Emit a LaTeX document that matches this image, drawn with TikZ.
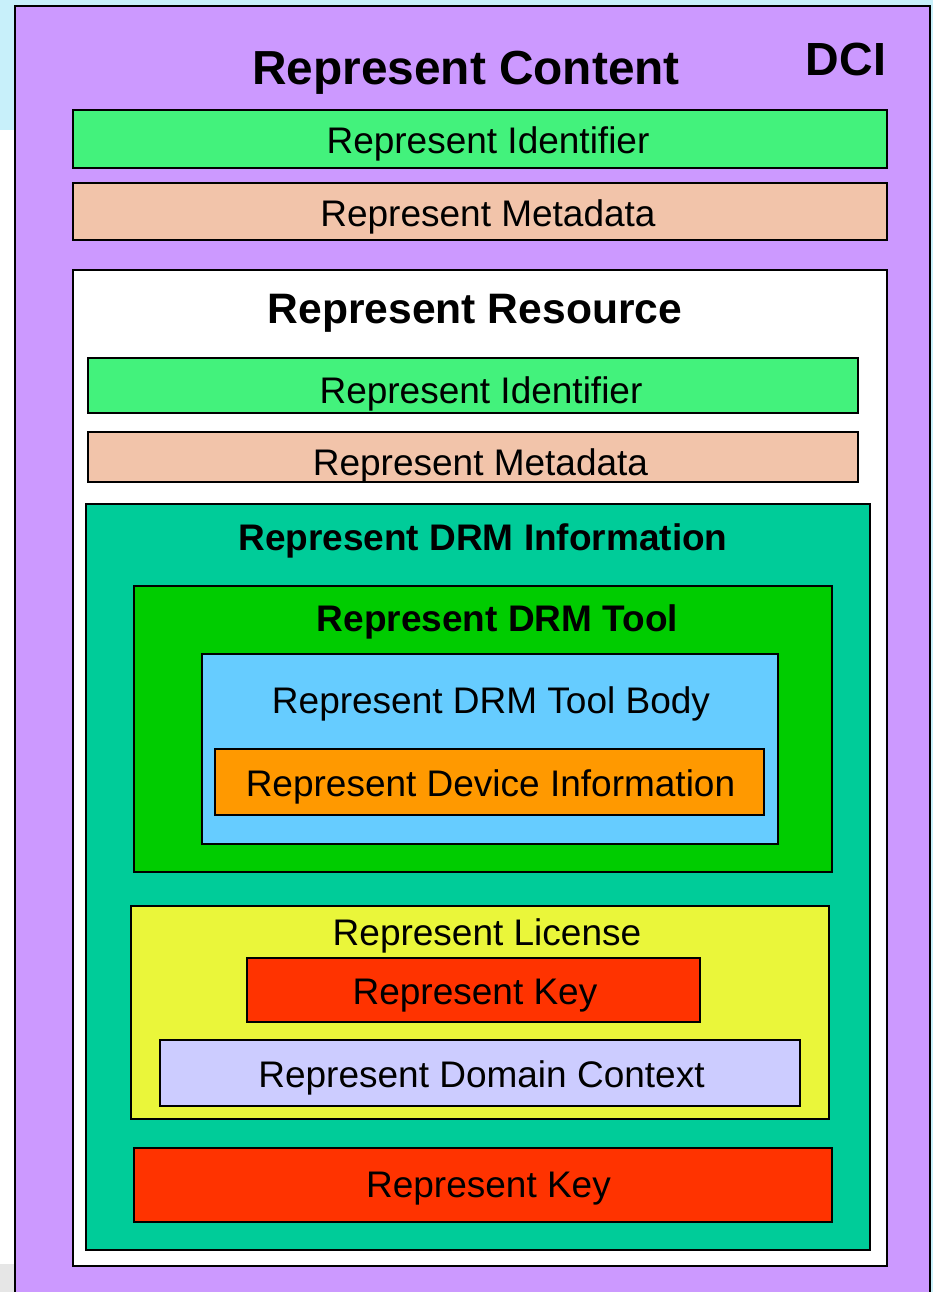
\documentclass[tikz,border=0pt]{standalone}
\usepackage{fontspec}
\setmainfont{Liberation Sans}
\definecolor{bgblue}{HTML}{C8F0FA}
\definecolor{dcipurple}{HTML}{CC99FF}
\definecolor{idgreen}{HTML}{43F27C}
\definecolor{metapeach}{HTML}{F2C4AA}
\definecolor{drmteal}{HTML}{00CC99}
\definecolor{toolgreen}{HTML}{00CC00}
\definecolor{bodyblue}{HTML}{66CCFF}
\definecolor{devorange}{HTML}{FF9900}
\definecolor{licyellow}{HTML}{EAF63A}
\definecolor{keyred}{HTML}{FF3300}
\definecolor{domlav}{HTML}{CCCCFF}
\definecolor{graystrip}{HTML}{E6E6E6}
\tikzset{
  panel/.style={draw=black, line width=2pt, rectangle, inner sep=0pt, outer sep=0pt, anchor=north west},
  lbl/.style={inner sep=0pt, anchor=base, font=\fontsize{37}{40}\selectfont},
  blbl/.style={inner sep=0pt, anchor=base, font=\fontsize{37}{40}\selectfont\bfseries},
}
\newcommand{\mkbox}[6]{%
  \node[panel, fill=#6, minimum width=#4pt-#2pt, minimum height=#5pt-#3pt] (#1) at (#2,#3) {};}
\begin{document}
\begin{tikzpicture}[x=1pt,y=-1pt]
\clip (0,0) rectangle (933,1292);
\fill[bgblue] (0,0) rectangle (933,1292);
\fill[white] (0,130) rectangle (15,1292);
\fill[graystrip] (0,1264) rectangle (15,1292);
% outer DCI
\mkbox{dci}{15}{6}{930}{1310}{dcipurple}
\node[blbl, font=\fontsize{47.8}{52}\selectfont\bfseries] (tcontent) at (466,85) {Represent Content};
\node[blbl, font=\fontsize{46.5}{50}\selectfont\bfseries] (tdci) at (846,76) {DCI};
\mkbox{id1}{73}{110}{887}{168}{idgreen}
\node[lbl] (tid1) at (488,154) {Represent Identifier};
\mkbox{meta1}{73}{183}{887}{240}{metapeach}
\node[lbl] (tmeta1) at (488,226) {Represent Metadata};
% resource
\mkbox{res}{73}{270}{887}{1266}{white}
\node[blbl, font=\fontsize{42.6}{46}\selectfont\bfseries] (tres) at (475,323) {Represent Resource};
\mkbox{id2}{88}{358}{858}{413}{idgreen}
\node[lbl] (tid2) at (481,403) {Represent Identifier};
\mkbox{meta2}{88}{432}{858}{482}{metapeach}
\node[lbl] (tmeta2) at (480.5,475) {Represent Metadata};
% DRM info
\mkbox{drm}{86}{504}{870}{1250}{drmteal}
\node[blbl] (tdrm) at (483,550) {Represent DRM Information};
% DRM tool
\mkbox{tool}{134}{586}{832}{872}{toolgreen}
\node[blbl] (ttool) at (497.5,631) {Represent DRM Tool};
\mkbox{body}{202}{654}{778}{844}{bodyblue}
\node[lbl] (tbody) at (491,713) {Represent DRM Tool Body};
\mkbox{dev}{215}{749}{764}{815}{devorange}
\node[lbl] (tdev) at (490.5,796) {Represent Device Information};
% license
\mkbox{lic}{131}{906}{829}{1119}{licyellow}
\node[lbl] (tlic) at (487,945) {Represent License};
\mkbox{key1}{247}{958}{700}{1022}{keyred}
\node[lbl] (tkey1) at (475,1004) {Represent Key};
\mkbox{dom}{160}{1040}{800}{1106}{domlav}
\node[lbl] (tdom) at (481.5,1087) {Represent Domain Context};
% bottom key
\mkbox{key2}{134}{1148}{832}{1222}{keyred}
\node[lbl] (tkey2) at (488.5,1197) {Represent Key};
\end{tikzpicture}
\end{document}
